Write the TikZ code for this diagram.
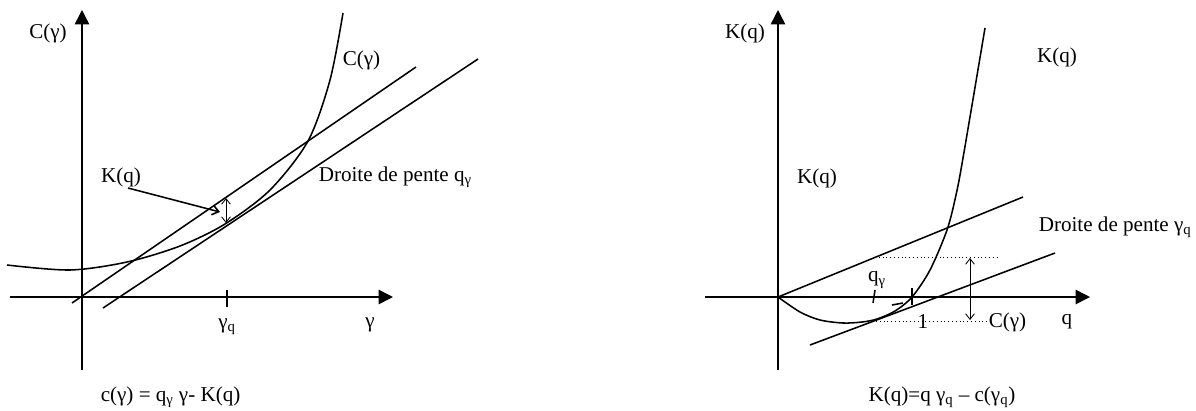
\documentclass[tikz,border=0pt]{standalone}
\usepackage{fontspec}
\setmainfont{Liberation Serif}
\usetikzlibrary{arrows.meta,positioning}
\tikzset{
  axe/.style={-{Triangle[length=0.36cm,width=0.36cm]}},
  fl/.style={-{Straight Barb[length=1.6mm,width=2.4mm]}},
  dfl/.style={{Straight Barb[length=1.4mm,width=2.2mm]}-{Straight Barb[length=1.4mm,width=2.2mm]},line width=0.6pt},
  txt/.style={inner sep=0pt},
  pointille/.style={dotted,line width=0.7pt}
}

\begin{document}
\begin{tikzpicture}[x=0.025cm,y=-0.025cm,line width=1.1pt,font=\fontsize{15}{17}\selectfont]
\useasboundingbox (0,0) rectangle (1196,410);

% graphe de gauche
\coordinate (x1a) at (10,297); \coordinate (x1b) at (393,297);
\coordinate (y1a) at (82,370); \coordinate (y1b) at (82,10);
\draw[axe] (x1a) -- (x1b);
\draw[axe] (y1a) -- (y1b);
\draw plot[smooth] coordinates {(7,265) (70,270) (127,262) (180,246) (225,224) (270,190) (308,141) (330,80) (343,13)};
\coordinate (d1a) at (72,303); \coordinate (d1b) at (416,67);
\coordinate (d2a) at (103,308); \coordinate (d2b) at (478,59);
\draw (d1a) -- (d1b);
\draw (d2a) -- (d2b);
\coordinate (t1a) at (227,290); \coordinate (t1b) at (227,307);
\draw (t1a) -- (t1b);
\coordinate (e1a) at (226,198); \coordinate (e1b) at (226,223);
\draw[dfl] (e1a) -- (e1b);

\node[txt] (cg1) at (48,33) {C(γ)};
\node[txt,anchor=west] (cg2) at (342,60) {C(γ)};
\node[txt] (gq1) at (227,327) {γ\textsubscript{q}};
\node[txt] (g1) at (370,325) {γ};
\node[txt] (kq1) at (121,177) {K(q)};
\node[txt,anchor=west] (dr1) at (318,177) {Droite de pente q\textsubscript{γ}};
\node[txt,anchor=west] (f1) at (100,397) {c(γ) = q\textsubscript{γ} γ- K(q)};
\coordinate (k1a) at (128,188); \coordinate (k1b) at (220,212);
\draw[fl] (k1a) -- (k1b);

% graphe de droite
\coordinate (O2) at (778,297);
\coordinate (x2a) at (705,297); \coordinate (x2b) at (1090,297);
\coordinate (y2a) at (778,370); \coordinate (y2b) at (778,10);
\draw[axe] (x2a) -- (x2b);
\draw[axe] (y2a) -- (y2b);
\draw plot[smooth] coordinates {(778,297) (800,312) (820,320) (843,323) (862,322) (877,319) (895,311) (912,297) (930,270) (947,230) (956,195) (963,158) (985,28)};
\coordinate (d3b) at (1023,197);
\coordinate (d4a) at (810,345); \coordinate (d4b) at (1055,253);
\draw (O2) -- (d3b);
\draw (d4a) -- (d4b);
\coordinate (p1a) at (875,257); \coordinate (p1b) at (997,257);
\coordinate (p2a) at (876,321); \coordinate (p2b) at (988,321);
\draw[pointille] (p1a) -- (p1b);
\draw[pointille] (p2a) -- (p2b);
\coordinate (e2a) at (970,258); \coordinate (e2b) at (970,320);
\draw[dfl] (e2a) -- (e2b);
\coordinate (t2a) at (875,290); \coordinate (t2b) at (873,303);
\coordinate (t3a) at (912,288); \coordinate (t3b) at (912,305);
\draw (t2a) -- (t2b);
\draw (t3a) -- (t3b);
\coordinate (r1a) at (892,305); \coordinate (r1b) at (903,303);
\draw (r1a) -- (r1b);

\node[txt] (kq2) at (745,33) {K(q)};
\node[txt] (kq3) at (1057,57) {K(q)};
\node[txt] (kq4) at (817,178) {K(q)};
\node[txt] (qg2) at (877,280) {q\textsubscript{γ}};
\node[txt] (un) at (923,322) {1};
\node[txt,anchor=west] (cg3) at (988,322) {C(γ)};
\node[txt] (q2) at (1067,322) {q};
\node[txt,anchor=west] (dr2) at (1038,227) {Droite de pente γ\textsubscript{q}};
\node[txt] (f2) at (942,397) {K(q)=q γ\textsubscript{q} – c(γ\textsubscript{q})};
\end{tikzpicture}
\end{document}
